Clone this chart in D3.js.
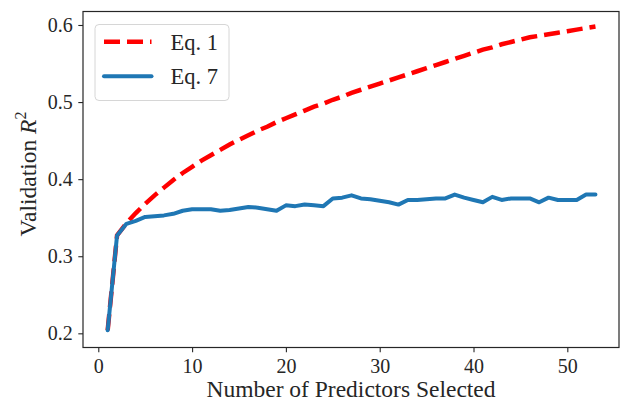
<!DOCTYPE html>
<html>
<head>
<meta charset="utf-8">
<script src="https://cdn.jsdelivr.net/npm/d3@7"></script>
<style>
  body { margin: 0; background: #fff; }
  text { font-family: "Liberation Serif", "DejaVu Serif", serif; fill: #262626; }
</style>
</head>
<body>
<svg id="chart" width="621" height="405"></svg>
<script>
// ── Data ──────────────────────────────────────────────────────────────────────
const nPredictors = [1, 2, 3, 4, 5, 6, 7, 8, 9, 10, 11, 12, 13, 14, 15, 16, 17, 18,
  19, 20, 21, 22, 23, 24, 25, 26, 27, 28, 29, 30, 31, 32, 33, 34, 35, 36, 37,
  38, 39, 40, 41, 42, 43, 44, 45, 46, 47, 48, 49, 50, 51, 52, 53];

const eq1 = [0.204, 0.327, 0.343, 0.356, 0.368, 0.379, 0.389, 0.399, 0.408, 0.416,
  0.424, 0.431, 0.438, 0.445, 0.451, 0.457, 0.463, 0.468, 0.474, 0.479,
  0.484, 0.489, 0.494, 0.498, 0.503, 0.507, 0.512, 0.516, 0.520, 0.524,
  0.528, 0.532, 0.536, 0.540, 0.544, 0.548, 0.552, 0.556, 0.560, 0.564,
  0.568, 0.571, 0.575, 0.578, 0.581, 0.584, 0.586, 0.588, 0.590, 0.592,
  0.594, 0.596, 0.598];

const eq7 = [0.204, 0.327, 0.342, 0.346, 0.351, 0.352, 0.353, 0.355, 0.359, 0.361,
  0.361, 0.361, 0.359, 0.360, 0.362, 0.364, 0.363, 0.361, 0.359, 0.366,
  0.365, 0.367, 0.366, 0.365, 0.375, 0.376, 0.379, 0.375, 0.374, 0.372,
  0.370, 0.367, 0.373, 0.373, 0.374, 0.375, 0.375, 0.380, 0.376, 0.373,
  0.370, 0.377, 0.373, 0.375, 0.375, 0.375, 0.370, 0.376, 0.373, 0.373,
  0.373, 0.380, 0.380];

const seriesNames = ['Eq. 1', 'Eq. 7'];
const xTicks = [0, 10, 20, 30, 40, 50];
const yTicks = [0.2, 0.3, 0.4, 0.5, 0.6];

// ── Dimensions ────────────────────────────────────────────────────────────────
const W = 621, H = 405;
const margin = { top: 11.5, right: 2, bottom: 57.5, left: 83 };
const w = W - margin.left - margin.right;
const h = H - margin.top - margin.bottom;

const svg = d3.select('#chart');
const g = svg.append('g')
  .attr('transform', `translate(${margin.left},${margin.top})`);

// Scales
const x = d3.scaleLinear().domain([-1.63, 55.51]).range([0, w]);
const y = d3.scaleLinear().domain([0.1816, 0.6175]).range([h, 0]);

// Axes
const xAxis = g.append('g')
  .attr('transform', `translate(0,${h})`)
  .call(d3.axisBottom(x).tickValues(xTicks).tickSize(4.7).tickPadding(6.5).tickSizeOuter(0));
const yAxis = g.append('g')
  .call(d3.axisLeft(y).tickValues(yTicks).tickFormat(d3.format('.1f'))
    .tickSize(4.7).tickPadding(5.6).tickSizeOuter(0));

[xAxis, yAxis].forEach(a => {
  a.select('.domain').remove();
  a.selectAll('.tick line').attr('stroke', '#262626').attr('stroke-width', 1.1);
  a.selectAll('.tick text')
    .attr('font-size', 20)
    .attr('font-family', '"Liberation Serif", serif')
    .attr('fill', '#262626');
});

// Lines
const line = d3.line().x((d, i) => x(nPredictors[i])).y(d => y(d));

g.append('path')
  .datum(eq1)
  .attr('d', line)
  .attr('fill', 'none')
  .attr('stroke', '#ff0000')
  .attr('stroke-width', 4.5)
  .attr('stroke-dasharray', '16 7');

g.append('path')
  .datum(eq7)
  .attr('d', line)
  .attr('fill', 'none')
  .attr('stroke', '#1f77b4')
  .attr('stroke-width', 4)
  .attr('stroke-linejoin', 'round')
  .attr('stroke-linecap', 'round');

// Spines
g.append('rect')
  .attr('width', w).attr('height', h)
  .attr('fill', 'none')
  .attr('stroke', '#262626')
  .attr('stroke-width', 1.2);

// ── Legend ───────────────────────────────────────────────────────────────────
const leg = svg.append('g');
leg.append('rect')
  .attr('x', 95).attr('y', 24.5)
  .attr('width', 134).attr('height', 76)
  .attr('rx', 4)
  .attr('fill', '#fff')
  .attr('stroke', '#d6d6d6')
  .attr('stroke-width', 1);

leg.append('line')
  .attr('x1', 104).attr('x2', 151.5)
  .attr('y1', 41.8).attr('y2', 41.8)
  .attr('stroke', '#ff0000')
  .attr('stroke-width', 4.5)
  .attr('stroke-dasharray', '16 7');

leg.append('line')
  .attr('x1', 104).attr('x2', 151.5)
  .attr('y1', 76.3).attr('y2', 76.3)
  .attr('stroke', '#1f77b4')
  .attr('stroke-width', 4)
  .attr('stroke-linecap', 'round');

leg.selectAll('text.leg')
  .data(seriesNames)
  .join('text')
  .attr('class', 'leg')
  .attr('x', 170.5)
  .attr('y', (d, i) => [41.8, 76.3][i] + 8)
  .attr('font-size', 22.5)
  .text(d => d);

// ── Axis labels ──────────────────────────────────────────────────────────────
svg.append('text')
  .attr('text-anchor', 'middle')
  .attr('x', margin.left + w / 2)
  .attr('y', 397)
  .attr('font-size', 23.5)
  .text('Number of Predictors Selected');

const yl = svg.append('text')
  .attr('text-anchor', 'middle')
  .attr('transform', 'translate(36,174) rotate(-90)')
  .attr('font-size', 23.5);
yl.append('tspan').text('Validation ');
yl.append('tspan').attr('font-style', 'italic').text('R');
yl.append('tspan').attr('font-size', 16).attr('dy', -10).text('2');
</script>
</body>
</html>
